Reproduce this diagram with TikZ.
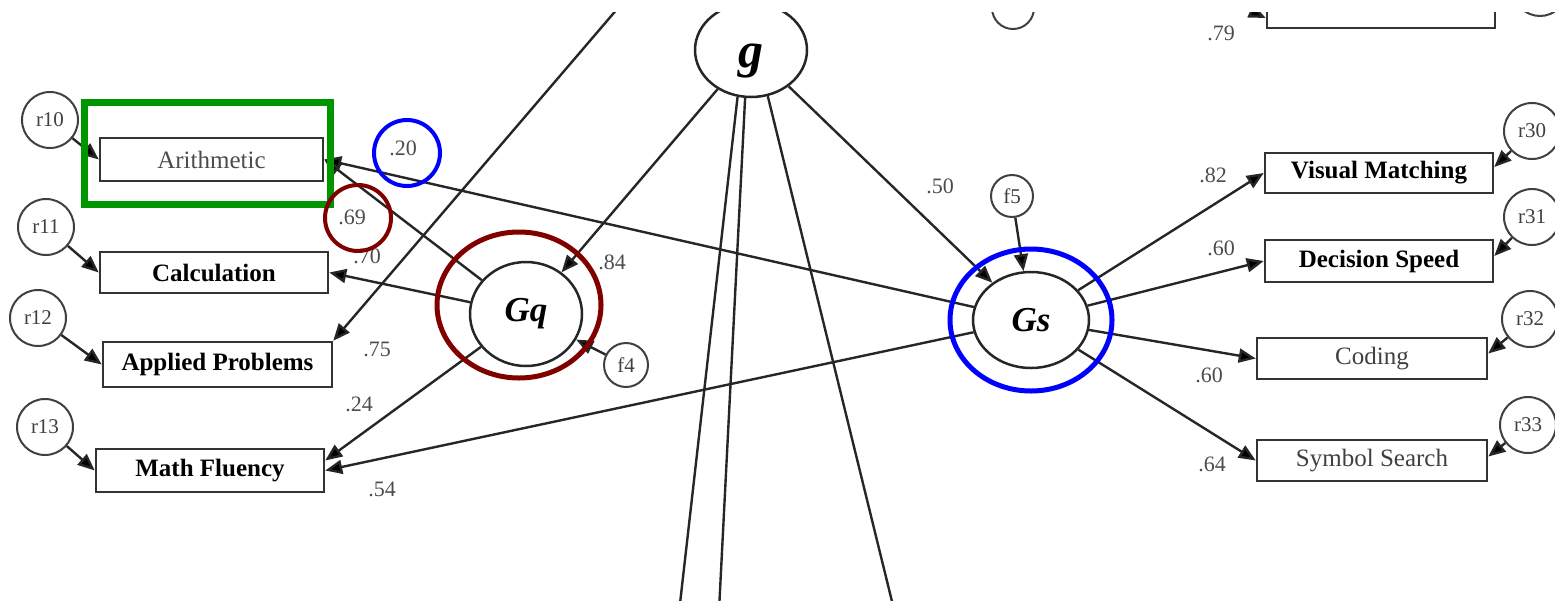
\documentclass[tikz,border=0pt]{standalone}
\usepackage{fontspec}
\setmainfont{Liberation Serif}
\usetikzlibrary{arrows.meta,shapes.geometric,calc}
\definecolor{hlgreen}{RGB}{0,150,0}
\definecolor{hlred}{RGB}{128,0,0}
\definecolor{hlblue}{RGB}{0,0,255}
\begin{document}
\begin{tikzpicture}[x=1pt,y=-1pt,
  obsbox/.style={draw=black!80,line width=2.5pt,rectangle,inner sep=0pt,font=\fontsize{25}{28}\selectfont},
  resid/.style={draw=black!75,line width=2pt,circle,inner sep=0pt,minimum size=56pt,font=\fontsize{21}{24}\selectfont,text=black!75},
  fac/.style={draw=black!85,line width=2.5pt,ellipse,inner sep=0pt,font=\fontsize{35}{38}\selectfont\bfseries\itshape},
  conn/.style={draw=black!85,line width=2.4pt,-{Triangle[length=17pt,width=14pt,fill=black]}},
  plainln/.style={draw=black!85,line width=2.4pt},
  lbl/.style={font=\fontsize{22}{24}\selectfont,text=black!70,inner sep=0pt},
  hl/.style={line width=#1}]
\useasboundingbox (0,0) rectangle (1555,600);
\begin{scope}
\clip (0,12) rectangle (1555,600);
% observed boxes (left)
\node[obsbox,minimum width=223pt,minimum height=43pt,text=black!70] (arith) at (211.5,159.5) {Arithmetic};
\node[obsbox,minimum width=228pt,minimum height=41pt,font=\fontsize{25}{28}\selectfont\bfseries] (calc) at (214,272.5) {Calculation};
\node[obsbox,minimum width=229pt,minimum height=45pt,font=\fontsize{25}{28}\selectfont\bfseries] (ap) at (217.5,364.5) {Applied Problems};
\node[obsbox,minimum width=228pt,minimum height=43pt,font=\fontsize{25}{28}\selectfont\bfseries] (mf) at (210,470.5) {Math Fluency};
% observed boxes (right)
\node[obsbox,minimum width=228pt,minimum height=40pt,font=\fontsize{25}{28}\selectfont\bfseries] (vm) at (1379,173) {Visual Matching};
\node[obsbox,minimum width=228pt,minimum height=42pt,font=\fontsize{25}{28}\selectfont\bfseries] (ds) at (1379,261) {Decision Speed};
\node[obsbox,minimum width=230pt,minimum height=41pt,text=black!75] (cod) at (1372,358.5) {Coding};
\node[obsbox,minimum width=230pt,minimum height=41pt,text=black!75] (ss) at (1372,460.5) {Symbol Search};
\node[obsbox,minimum width=228pt,minimum height=42pt] (topbox) at (1381,7) {};
% residual circles
\node[resid] (r10) at (50,120) {r10};
\node[resid] (r11) at (46,227) {r11};
\node[resid] (r12) at (38,318) {r12};
\node[resid] (r13) at (45,427) {r13};
\node[resid] (r30) at (1532,131) {r30};
\node[resid] (r31) at (1532,217) {r31};
\node[resid] (r32) at (1530,319) {r32};
\node[resid] (r33) at (1528,425) {r33};
\node[resid,minimum size=42pt] (f5) at (1012,196) {f5};
\node[resid,minimum size=44pt] (f4) at (626,365) {f4};
\node[resid,minimum size=42pt] (ftop) at (1013,8) {};
\node[resid,minimum size=54pt] (rtop) at (1540,-11) {};
% factors
\node[fac,minimum width=112pt,minimum height=94pt,font=\fontsize{50}{52}\selectfont\bfseries\itshape,text height=46pt,text depth=11pt] (g) at (751,50) {g};
\node[fac,minimum width=112pt,minimum height=104pt] (gq) at (526,314) {Gq};
\node[fac,minimum width=116pt,minimum height=96pt] (gs) at (1031,320) {Gs};
% out-of-view end points
\coordinate (gfsrc) at (642,-20);
\coordinate (gb1) at (677,630);
\coordinate (gb2) at (718,630);
\coordinate (gb3) at (899,630);
\coordinate (gup) at (815,-15);
\coordinate (tsrc) at (1195,-15);
% connectors
\draw[conn] (g) -- (gq);
\draw[conn] (g) -- (gs);
\draw[plainln] (g.254) -- (gb1);
\draw[plainln] (g.263) -- (gb2);
\draw[plainln] (g.290) -- (gb3);
\draw[plainln] (g.60) -- (gup);
\draw[conn] (gfsrc) -- (ap.north east);
\draw[conn] (gq) -- (arith.east);
\draw[conn] (gq) -- (calc.east);
\draw[conn] (gq) -- ([yshift=10pt]mf.east);
\draw[conn] (gs) -- (arith.east);
\draw[conn] (gs) -- (mf.east);
\draw[conn] (gs) -- (vm.west);
\draw[conn] (gs) -- (ds.west);
\draw[conn] (gs) -- (cod.west);
\draw[conn] (gs) -- (ss.west);
\draw[conn] (f5) -- (gs);
\draw[conn] (f4) -- (gq);
\draw[conn] (r10) -- (arith.west);
\draw[conn] (r11) -- (calc.west);
\draw[conn] (r12) -- (ap.west);
\draw[conn] (r13) -- (mf.west);
\draw[conn] (r30) -- ([yshift=6pt]vm.east);
\draw[conn] (r31) -- ([yshift=5pt]ds.east);
\draw[conn] (r32) -- ([yshift=5pt]cod.east);
\draw[conn] (r33) -- ([yshift=4pt]ss.east);
\draw[conn] (tsrc) -- ([yshift=-11pt]topbox.west);
% labels
\node[lbl] (l84) at (612,262) {.84};
\node[lbl] (l50) at (940,186) {.50};
\node[lbl] (l75) at (377,349) {.75};
\node[lbl] (l69) at (352,217) {.69};
\node[lbl] (l20) at (403,148) {.20};
\node[lbl] (l70) at (367,256) {.70};
\node[lbl] (l24) at (359,404) {.24};
\node[lbl] (l54) at (382,489) {.54};
\node[lbl] (l82) at (1213,175) {.82};
\node[lbl] (l60a) at (1221,248) {.60};
\node[lbl] (l60b) at (1209,375) {.60};
\node[lbl] (l64) at (1212,464) {.64};
\node[lbl] (l79) at (1221,33) {.79};
% highlights
\draw[hlgreen,hl=7pt] (84,102) rectangle (330,204);
\draw[hlred,hl=5pt] (519,305) ellipse [x radius=82, y radius=73];
\draw[hlblue,hl=5pt] (1031,320) ellipse [x radius=81, y radius=71];
\draw[hlred,hl=4pt] (358,218) circle [radius=33];
\draw[hlblue,hl=4pt] (407,153) circle [radius=33];
\end{scope}
\end{tikzpicture}
\end{document}
